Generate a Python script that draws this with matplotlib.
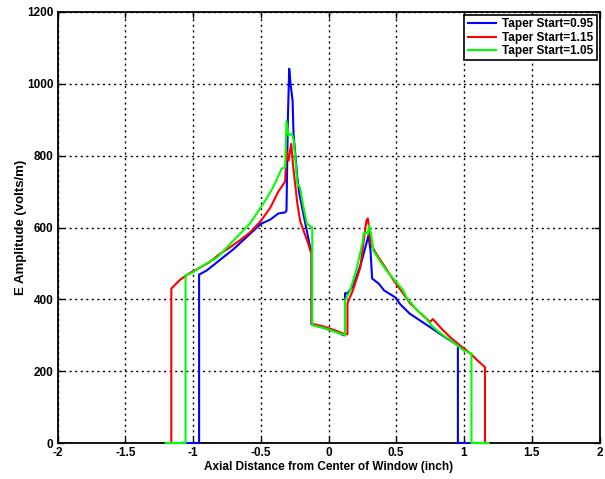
import numpy as np
import matplotlib
matplotlib.use("Agg")
import matplotlib.pyplot as plt

# Taper Start = 0.95 (blue)
x_blue = [-1.2, -0.955, -0.955, -0.90, -0.85, -0.80, -0.70, -0.60, -0.50, -0.43, -0.37,
          -0.32, -0.31, -0.30, -0.29, -0.28, -0.265, -0.258, -0.23, -0.215, -0.18, -0.15,
          -0.135, -0.125, -0.125, -0.05, 0.0, 0.06, 0.11, 0.122, 0.122, 0.14, 0.185,
          0.24, 0.28, 0.295, 0.31, 0.322, 0.37, 0.41, 0.49, 0.53, 0.60, 0.68, 0.76,
          0.85, 0.955, 0.955, 1.18]
y_blue = [0, 0, 469, 480, 495, 510, 540, 575, 610, 622, 639,
          642, 647, 900, 1042, 1000, 953, 861, 739, 694, 628, 572,
          544, 540, 330, 322, 316, 310, 300, 300, 417, 417, 439,
          500, 556, 578, 536, 458, 444, 425, 406, 386, 360, 340, 320,
          297, 272, 0, 0]

# Taper Start = 1.15 (red)
x_red = [-1.2, -1.16, -1.16, -1.10, -1.03, -0.96, -0.88, -0.80, -0.73, -0.655, -0.58,
         -0.50, -0.43, -0.37, -0.32, -0.31, -0.295, -0.275, -0.26, -0.23, -0.21,
         -0.185, -0.15, -0.135, -0.125, -0.125, -0.05, 0.0, 0.06, 0.12, 0.14, 0.14,
         0.18, 0.235, 0.26, 0.28, 0.29, 0.30, 0.31, 0.35, 0.41, 0.48, 0.55, 0.60,
         0.675, 0.75, 0.77, 0.845, 0.897, 0.97, 1.045, 1.096, 1.155, 1.155, 1.18]
y_red = [0, 0, 430, 453, 472, 486, 503, 527, 544, 564, 586,
         618, 655, 700, 728, 814, 786, 833, 767, 667, 619,
         592, 556, 536, 530, 332, 326, 320, 312, 303, 303, 389,
         425, 489, 564, 619, 625, 600, 556, 528, 494, 453, 417, 390,
         362, 337, 345, 314, 295, 272, 250, 231, 211, 0, 0]

# Taper Start = 1.05 (green)
x_green = [-1.2, -1.055, -1.055, -1.0, -0.95, -0.82, -0.70, -0.58, -0.48, -0.41, -0.345,
           -0.32, -0.31, -0.295, -0.27, -0.255, -0.23, -0.21, -0.19, -0.16, -0.12,
           -0.12, -0.05, 0.0, 0.06, 0.122, 0.122, 0.16, 0.21, 0.25, 0.26, 0.28, 0.29,
           0.30, 0.315, 0.33, 0.385, 0.445, 0.51, 0.55, 0.58, 0.653, 0.712, 0.77,
           0.845, 0.92, 0.993, 1.045, 1.055, 1.055, 1.18]
y_green = [0, 0, 467, 475, 489, 517, 564, 611, 667, 711, 764,
           767, 897, 856, 861, 840, 722, 711, 667, 611, 600,
           328, 322, 316, 308, 300, 397, 425, 489, 556, 583, 586, 583,
           606, 580, 536, 503, 472, 444, 425, 403, 370, 351, 323,
           300, 281, 259, 250, 250, 0, 0]

labels = ["Taper Start=0.95", "Taper Start=1.15", "Taper Start=1.05"]

plt.rcParams['font.family'] = ['Liberation Sans', 'DejaVu Sans']
plt.rcParams['font.weight'] = 'bold'

fig = plt.figure(figsize=(6.05, 4.79), dpi=100)
ax = fig.add_axes([57.5 / 605, 36 / 479, 542 / 605, 431 / 479])

ax.plot(x_blue, y_blue, color='#0000ff', lw=1.5, label=labels[0], zorder=3, clip_on=False)
ax.plot(x_red, y_red, color='#ff0000', lw=1.5, label=labels[1], zorder=3, clip_on=False)
ax.plot(x_green, y_green, color='#00ff00', lw=1.5, label=labels[2], zorder=3, clip_on=False)

ax.set_xlim(-2, 2)
ax.set_ylim(0, 1200)
ax.set_xticks([-2, -1.5, -1, -0.5, 0, 0.5, 1, 1.5, 2])
ax.set_xticklabels(['-2', '-1.5', '-1', '-0.5', '0', '0.5', '1', '1.5', '2'])
ax.set_yticks([0, 200, 400, 600, 800, 1000, 1200])
ax.grid(True, color='black', linestyle=(0, (1.5, 2.5)), linewidth=1.0)
ax.tick_params(direction='in', top=True, right=True, length=4, width=1, labelsize=8.5, pad=3)
for sp in ax.spines.values():
    sp.set_linewidth(1.3)

ax.set_xlabel('Axial Distance from Center of Window (inch)', fontsize=8.5, fontweight='bold', labelpad=1)
ax.set_ylabel('E Amplitude (volts/m)', fontsize=9.5, fontweight='bold', labelpad=0)

leg = ax.legend(loc='upper right', fontsize=8.5, fancybox=False, edgecolor='black',
                framealpha=1, borderaxespad=0.25, handlelength=2.4, borderpad=0.3,
                labelspacing=0.1, handletextpad=0.5)
leg.get_frame().set_linewidth(1.2)

fig.savefig('out.png', dpi=100)
